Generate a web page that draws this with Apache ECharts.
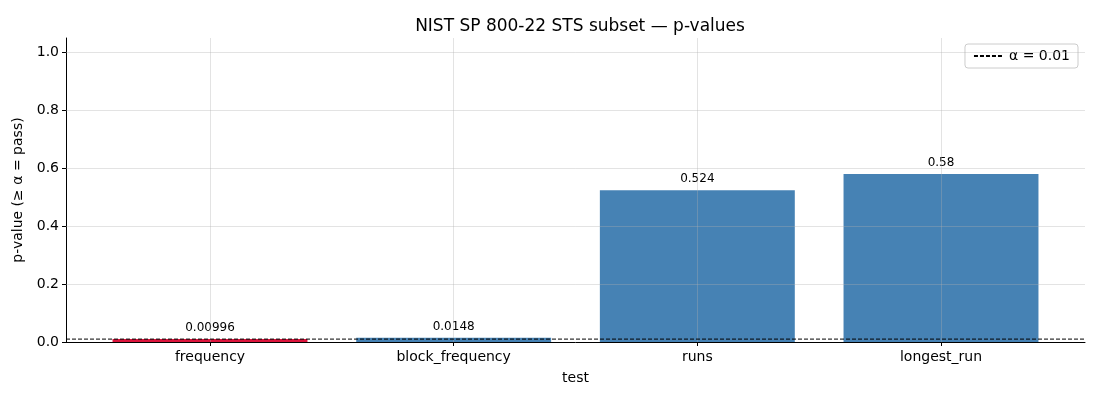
<!DOCTYPE html>
<html>
<head>
<meta charset="UTF-8">
<title>NIST SP 800-22 STS subset</title>
<style>
	* { margin: 0; padding: 0; }
	html, body { width: 100%; height: 100%; background: #fff; overflow: hidden; }
	#chart { width: 1100px; height: 400px; }
</style>
</head>
<body>
<div id="chart"></div>
<script src="https://cdn.jsdelivr.net/npm/echarts@6/dist/echarts.min.js"></script>
<script>
	// data
	var tests = ['frequency', 'block_frequency', 'runs', 'longest_run'];
	var pValues = [0.00996, 0.0148, 0.524, 0.58];
	var alpha = 0.01;
	var yTicks = [0, 0.2, 0.4, 0.6, 0.8, 1.0];

	var passColor = '#4682b4';
	var failColor = '#dc143c';
	var gridColor = 'rgba(176,176,176,0.35)';
	var font = 'DejaVu Sans';

	var chart = echarts.init(document.getElementById('chart'));

	var option = {
		backgroundColor: '#fff',
		animation: false,
		textStyle: { fontFamily: font },
		title: {
			text: 'NIST SP 800-22 STS subset — p-values',
			left: 575,
			textAlign: 'center',
			top: 13,
			textStyle: { fontFamily: font, fontSize: 17, fontWeight: 'normal', color: '#000' }
		},
		legend: {
			right: 22,
			top: 44,
			padding: [5, 8],
			borderColor: '#cccccc',
			borderWidth: 1,
			borderRadius: 3,
			itemWidth: 30,
			itemHeight: 10,
			itemStyle: { opacity: 0 },
			textStyle: { fontFamily: font, fontSize: 14, color: '#000' },
			data: ['α = 0.01']
		},
		// grid 0: the frame (spines, y axis, horizontal grid, alpha line)
		// grid 1: the bars, placed so category centres match the frame
		grid: [
			{ left: 66, right: 15, top: 38, bottom: 58 },
			{ left: 210, right: 159, top: 38, bottom: 58 }
		],
		xAxis: [{
			gridIndex: 0,
			type: 'value',
			min: 0,
			max: 1,
			name: 'test',
			nameLocation: 'middle',
			nameGap: 29,
			nameTextStyle: { fontFamily: font, fontSize: 14, color: '#000' },
			axisLine: { show: true, lineStyle: { color: '#000', width: 1 } },
			axisTick: { show: false },
			axisLabel: { show: false },
			splitLine: { show: false }
		}, {
			gridIndex: 1,
			type: 'category',
			data: tests,
			boundaryGap: false,
			z: 5,
			axisLine: { show: false },
			axisTick: { show: true, length: 4, lineStyle: { color: '#000' } },
			axisLabel: { fontFamily: font, fontSize: 14, color: '#000', margin: 8 },
			splitLine: { show: true, lineStyle: { color: gridColor, width: 1 } }
		}],
		yAxis: [{
			gridIndex: 0,
			type: 'value',
			min: 0,
			max: 1.05,
			name: 'p-value (≥ α = pass)',
			nameLocation: 'middle',
			nameGap: 38,
			nameTextStyle: { fontFamily: font, fontSize: 14, color: '#000' },
			axisLine: { show: true, lineStyle: { color: '#000', width: 1 } },
			axisTick: { show: true, length: 4, customValues: yTicks, lineStyle: { color: '#000' } },
			axisLabel: {
				fontFamily: font, fontSize: 14, color: '#000', margin: 7,
				customValues: yTicks,
				formatter: function (v) { return v.toFixed(1); }
			},
			splitLine: { show: false }
		}, {
			gridIndex: 1,
			type: 'value',
			min: 0,
			max: 1.05,
			show: false
		}],
		series: [{
			name: 'α = 0.01',
			type: 'line',
			xAxisIndex: 0,
			yAxisIndex: 0,
			z: 6,
			symbol: 'none',
			silent: true,
			data: [[0, alpha], [1, alpha]],
			lineStyle: { color: '#000', width: 1, type: [4, 2] },
			itemStyle: { color: '#000' },
			markLine: {
				silent: true,
				symbol: 'none',
				label: { show: false },
				lineStyle: { color: gridColor, type: 'solid', width: 1 },
				data: yTicks.filter(function (t) { return t > 0; }).map(function (t) {
					return { yAxis: t };
				})
			}
		}, {
			name: 'p-value',
			type: 'bar',
			xAxisIndex: 1,
			yAxisIndex: 1,
			z: 2,
			clip: false,
			barWidth: '80%',
			data: pValues.map(function (v) {
				return { value: v, itemStyle: { color: v < alpha ? failColor : passColor } };
			}),
			label: {
				show: true,
				position: 'top',
				distance: 5,
				fontFamily: font,
				fontSize: 12,
				color: '#000'
			}
		}]
	};

	chart.setOption(option);
</script>
</body>
</html>
